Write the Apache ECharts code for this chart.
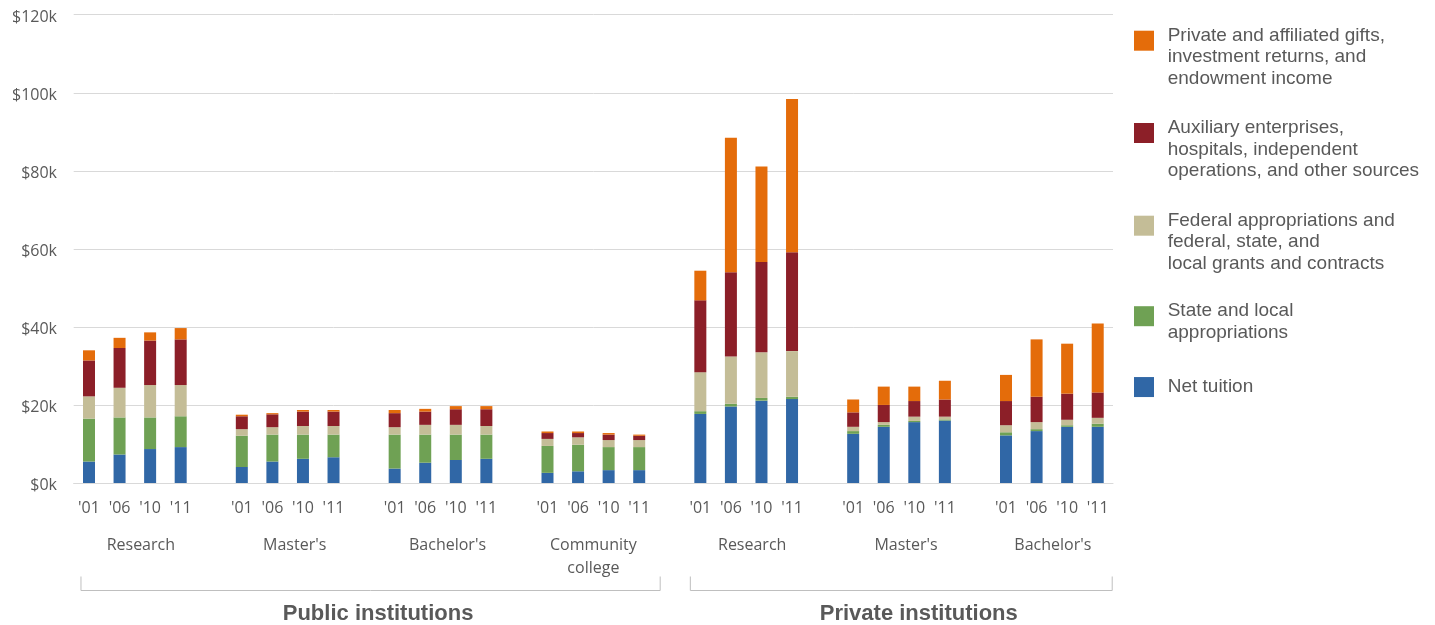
<!DOCTYPE html>
<html>
<head>
<meta charset="utf-8">
<script src="https://cdn.jsdelivr.net/npm/echarts@6/dist/echarts.min.js"></script>
<style>
html,body{margin:0;padding:0;background:#fff;}
#main{width:1435px;height:625px;}
</style>
</head>
<body>
<div id="main"></div>
<script>
// ---- data (values in $ thousands) ----
const years = ["'01", "'06", "'10", "'11"];
const sectors = ['Research', "Master's", "Bachelor's", 'Community\ncollege', 'Research', "Master's", "Bachelor's"];
const institutions = ['Public institutions', 'Private institutions'];
const yTicks = [0, 20, 40, 60, 80, 100, 120];

// order: Pub Research, Pub Master's, Pub Bachelor's, Community college, Priv Research, Priv Master's, Priv Bachelor's
const netTuition   = [5.5, 7.3, 8.7, 9.2,   4.1, 5.5, 6.2, 6.6,   3.7, 5.2, 5.9, 6.2,   2.6, 3.0, 3.3, 3.3,   17.7, 19.6, 21.1, 21.5,   12.6, 14.4, 15.6, 16.0,   12.2, 13.3, 14.4, 14.4];
const stateLocal   = [11.0, 9.5, 8.1, 7.9, 8.0, 6.9, 6.2, 5.8,   8.7, 7.2, 6.5, 6.2,   6.9, 6.8, 5.9, 5.9,   0.7, 0.7, 0.7, 0.6,       0.7, 0.5, 0.3, 0.3,       0.8, 0.5, 0.4, 0.8];
const federal      = [5.7, 7.6, 8.3, 8.0,   1.7, 1.9, 2.2, 2.2,   1.9, 2.5, 2.5, 2.2,   1.8, 1.9, 1.8, 1.8,   10.0, 12.1, 11.7, 11.7,   1.1, 0.7, 1.1, 0.7,       1.8, 1.8, 1.4, 1.5];
const auxiliary    = [9.2, 10.2, 11.4, 11.7, 3.3, 3.3, 3.7, 3.7,  3.6, 3.4, 4.0, 4.3,   1.5, 1.1, 1.4, 1.1,   18.4, 21.6, 23.1, 25.3,   3.7, 4.4, 4.0, 4.4,       6.2, 6.5, 6.7, 6.5];
const privateGifts = [2.6, 2.6, 2.1, 2.9,   0.4, 0.3, 0.4, 0.4,   0.8, 0.7, 0.8, 0.8,   0.4, 0.4, 0.4, 0.3,   7.6, 34.5, 24.5, 39.3,    3.3, 4.7, 3.7, 4.8,       6.7, 14.7, 12.8, 17.7];

const seriesNames = [
  'Net tuition',
  'State and local\nappropriations',
  'Federal appropriations and\nfederal, state, and\nlocal grants and contracts',
  'Auxiliary enterprises,\nhospitals, independent\noperations, and other sources',
  'Private and affiliated gifts,\ninvestment returns, and\nendowment income'
];
const seriesColors = ['#3067A6', '#6FA154', '#C4BD97', '#8C1F28', '#E46C0A'];
const seriesValues = [netTuition, stateLocal, federal, auxiliary, privateGifts];

// ---- build slotted category axis (4 bars + 1 empty slot per group) ----
const categories = [];
const slotOf = []; // slot index of each bar
sectors.forEach(function (s, g) {
  years.forEach(function (y) { slotOf.push(categories.length); categories.push(y); });
  if (g < sectors.length - 1) categories.push('');
});
function slotted(values) {
  const out = categories.map(function () { return '-'; });
  values.forEach(function (v, i) { out[slotOf[i]] = v; });
  return out;
}

const series = seriesValues.map(function (vals, i) {
  return {
    name: seriesNames[i],
    type: 'bar',
    stack: 'total',
    barWidth: 12,
    data: slotted(vals),
    itemStyle: { color: seriesColors[i] },
    emphasis: { disabled: true }
  };
});

// legends: one per item so each icon sits beside the first text line
const LH = 21.5;     // legend line height
const FIRST_UP = 5;  // first text line sits this far above the icon centre
const legendSpec = [
  { idx: 4, iconY: 40.7 },
  { idx: 3, iconY: 133 },
  { idx: 2, iconY: 225.7 },
  { idx: 1, iconY: 316.2 },
  { idx: 0, iconY: 387.8 }
];
const legends = legendSpec.map(function (l) {
  const lines = seriesNames[l.idx].split('\n');
  const n = lines.length;
  const gap = n > 1 ? 2 * ((n - 1) * LH / 2 - FIRST_UP) : 0;
  const H = n * LH + gap;
  const top = l.iconY - Math.max(H, 20) / 2;
  return {
    orient: 'vertical', left: 1134, top: top, padding: 0,
    itemWidth: 20, itemHeight: 20, itemGap: 0, icon: 'rect',
    selectedMode: false,
    data: [seriesNames[l.idx]],
    formatter: function (name) {
      const body = name.split('\n').map(function (t) { return '{t|' + t + '}'; }).join('\n');
      return gap > 0 ? '{g| }\n' + body : body;
    },
    textStyle: {
      color: '#595959', fontSize: 19, fontFamily: '"Liberation Sans", Arial, sans-serif',
      rich: {
        t: { color: '#595959', fontSize: 19, fontFamily: '"Liberation Sans", Arial, sans-serif', lineHeight: LH, padding: [0, 0, 0, 8.7] },
        g: { fontSize: 1, lineHeight: gap, height: gap }
      }
    }
  };
});

const option = {
  animation: false,
  backgroundColor: '#ffffff',
  grid: { left: 73.7, right: 322, top: 14.7, bottom: 142, containLabel: false },
  legend: legends,
  xAxis: {
    type: 'category',
    data: categories,
    axisTick: { show: false },
    axisLine: { show: true, lineStyle: { color: '#d9d9d9', width: 1 } },
    axisLabel: {
      interval: 0, margin: 17, color: '#595959', fontSize: 16,
      fontFamily: '"Open Sans", sans-serif'
    }
  },
  yAxis: {
    type: 'value',
    min: yTicks[0], max: yTicks[yTicks.length - 1], interval: yTicks[1] - yTicks[0],
    axisLine: { show: false }, axisTick: { show: false },
    splitLine: { lineStyle: { color: '#d9d9d9', width: 1 } },
    axisLabel: {
      margin: 16.7, color: '#595959', fontSize: 16,
      fontFamily: '"Open Sans", sans-serif',
      formatter: function (v) { return '{v|$' + v + 'k}'; },
      rich: {
        v: { color: '#595959', fontSize: 16, fontFamily: '"Open Sans", sans-serif', padding: [5, 0, 0, 0] }
      }
    }
  },
  series: series
};

const chart = echarts.init(document.getElementById('main'));
chart.setOption(option);

// ---- lower multi-level labels, positioned from the axis scale ----
function px(slot) { return chart.convertToPixel({ xAxisIndex: 0 }, slot); }
const baseY = chart.convertToPixel({ yAxisIndex: 0 }, 0);
const sectorShift = [6, 7, 7, 0, 6, 7, 1]; // small optical offsets of the original labels
const graphics = [];
sectors.forEach(function (s, g) {
  const first = slotOf[g * 4], last = slotOf[g * 4 + 3];
  const cx = (px(first) + px(last)) / 2 + sectorShift[g];
  graphics.push({
    type: 'text', x: cx, y: baseY + 50.5, silent: true,
    style: {
      text: s, align: 'center', verticalAlign: 'top', lineHeight: 23,
      font: '16px "Open Sans", sans-serif', fill: '#595959'
    }
  });
});
const brackets = [
  { x0: px(slotOf[0]) - 8, x1: px(slotOf[15]) + 21, shift: 7.5 },
  { x0: px(slotOf[16]) - 10, x1: px(slotOf[27]) + 14.5, shift: 17.5 }
];
brackets.forEach(function (b, i) {
  const yb = Math.round(baseY + 108) - 0.5;
  graphics.push({
    type: 'polyline', silent: true,
    shape: { points: [[b.x0, yb - 14], [b.x0, yb], [b.x1, yb], [b.x1, yb - 14]] },
    style: { stroke: '#bfbfbf', lineWidth: 1, fill: null }
  });
  graphics.push({
    type: 'text', x: (b.x0 + b.x1) / 2 + b.shift, y: baseY + 130.5, silent: true,
    style: {
      text: institutions[i], align: 'center', verticalAlign: 'middle',
      font: 'bold 22px "Liberation Sans", Arial, sans-serif', fill: '#595959'
    }
  });
});
chart.setOption({ graphic: graphics });
</script>
</body>
</html>
